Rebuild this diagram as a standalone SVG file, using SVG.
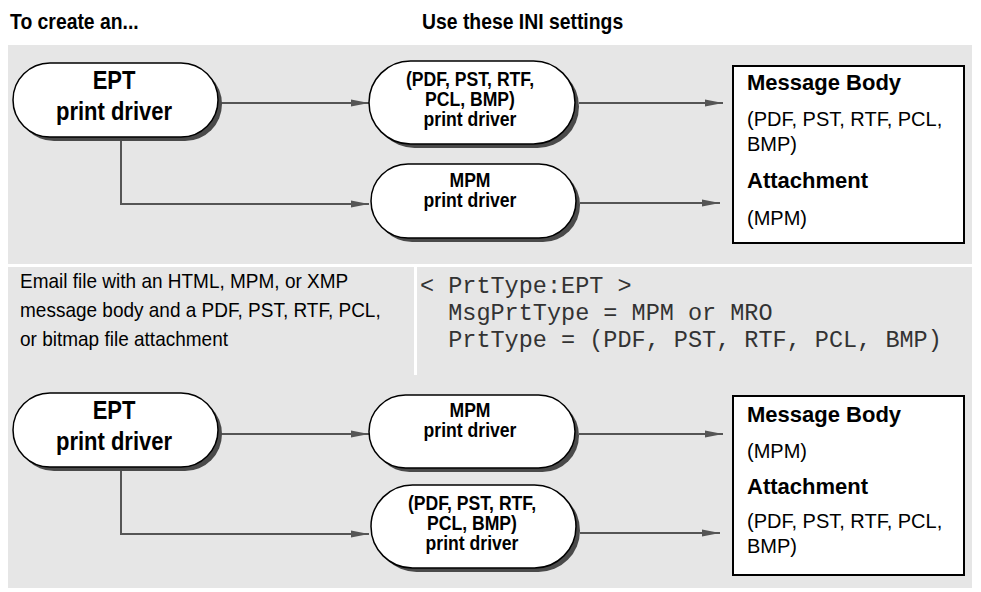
<svg xmlns="http://www.w3.org/2000/svg" width="981" height="592" viewBox="0 0 981 592">
  <style>
    .panel { fill: #e6e6e6; }
    .shadow { fill: #4a4a4a; }
    .pill { fill: #ffffff; stroke: #000000; stroke-width: 1.5; }
    .box { fill: #ffffff; stroke: #000000; stroke-width: 2; }
    .wire { fill: none; stroke: #555555; stroke-width: 2; }
    .cond { font-family: "Liberation Sans", Arial, sans-serif; font-weight: bold; fill: #000; text-anchor: middle; }
    .head { font-family: "Liberation Sans", Arial, sans-serif; font-weight: bold; fill: #000; font-size: 22px; }
    .bold { font-family: "Liberation Sans", Arial, sans-serif; font-weight: bold; fill: #000; font-size: 22px; }
    .reg { font-family: "Liberation Sans", Arial, sans-serif; fill: #000; font-size: 20px; }
    .mono { font-family: "Liberation Mono", "Courier New", monospace; fill: #333; font-size: 23.5px; white-space: pre; }
  </style>
  <defs>
    <marker id="arrow" markerUnits="userSpaceOnUse" markerWidth="20" markerHeight="10" refX="18" refY="4" orient="auto">
      <path d="M0,0.5 L18,4 L0,7.5 Z" fill="#555555"/>
    </marker>
  </defs>

  <rect width="981" height="592" fill="#ffffff"/>

  <!-- column headings -->
  <g id="headings">
    <g transform="translate(10,29) scale(0.88,1)"><text class="head" x="0" y="0">To create an...</text></g>
    <g transform="translate(422,29) scale(0.88,1)"><text class="head" x="0" y="0">Use these INI settings</text></g>
  </g>

  <!-- background panels -->
  <rect class="panel" x="8" y="45" width="964" height="219"/>
  <rect class="panel" x="8" y="267" width="964" height="321"/>
  <rect x="414" y="267" width="3" height="108" fill="#ffffff"/>

  <!-- settings description -->
  <g id="description">
    <g transform="translate(20,0) scale(0.95,1)">
      <text class="reg" x="0" y="288">Email file with an HTML, MPM, or XMP</text>
      <text class="reg" x="0" y="317">message body and a PDF, PST, RTF, PCL,</text>
      <text class="reg" x="0" y="346">or bitmap file attachment</text>
    </g>
  </g>
  <g id="ini-settings">
    <text class="mono" x="420" y="293">&lt; PrtType:EPT &gt;</text>
    <text class="mono" x="420" y="320">  MsgPrtType = MPM or MRO</text>
    <text class="mono" x="420" y="347">  PrtType = (PDF, PST, RTF, PCL, BMP)</text>
  </g>

  <!-- connectors -->
  <g id="connectors">
    <path class="wire" d="M218,103 H369" marker-end="url(#arrow)"/>
    <path class="wire" d="M121,137 V204 H369" marker-end="url(#arrow)"/>
    <path class="wire" d="M579,103 H723" marker-end="url(#arrow)"/>
    <path class="wire" d="M580,203 H720" marker-end="url(#arrow)"/>

    <path class="wire" d="M218,434 H369" marker-end="url(#arrow)"/>
    <path class="wire" d="M121,467 V534 H369" marker-end="url(#arrow)"/>
    <path class="wire" d="M579,434 H723" marker-end="url(#arrow)"/>
    <path class="wire" d="M580,533 H720" marker-end="url(#arrow)"/>
  </g>

  <!-- upper flow -->
  <g id="ept-driver-1">
    <rect class="shadow" x="17" y="67" width="205" height="74" rx="37"/>
    <rect class="pill" x="13" y="63" width="205" height="74" rx="37"/>
    <g transform="translate(114,0) scale(0.88,1)">
      <text class="cond" x="0" y="89" font-size="25">EPT</text>
      <text class="cond" x="0" y="120" font-size="25">print driver</text>
    </g>
  </g>
  <g id="pdf-driver-1">
    <rect class="shadow" x="373" y="65" width="206" height="83" rx="41.5"/>
    <rect class="pill" x="369" y="61" width="206" height="83" rx="41.5"/>
    <g transform="translate(470,0) scale(0.88,1)">
      <text class="cond" x="0" y="86" font-size="20">(PDF, PST, RTF,</text>
      <text class="cond" x="0" y="106" font-size="20">PCL, BMP)</text>
      <text class="cond" x="0" y="126" font-size="20">print driver</text>
    </g>
  </g>
  <g id="mpm-driver-1">
    <rect class="shadow" x="375" y="168" width="205" height="74" rx="37"/>
    <rect class="pill" x="371" y="164" width="205" height="74" rx="37"/>
    <g transform="translate(470,0) scale(0.88,1)">
      <text class="cond" x="0" y="187" font-size="20">MPM</text>
      <text class="cond" x="0" y="207" font-size="20">print driver</text>
    </g>
  </g>
  <g id="result-1">
    <rect class="box" x="733" y="66" width="231" height="177"/>
    <text class="bold" x="747" y="90">Message Body</text>
    <text class="reg" x="747" y="126">(PDF, PST, RTF, PCL,</text>
    <text class="reg" x="747" y="151">BMP)</text>
    <text class="bold" x="747" y="188">Attachment</text>
    <text class="reg" x="747" y="225">(MPM)</text>
  </g>

  <!-- lower flow -->
  <g id="ept-driver-2">
    <rect class="shadow" x="17" y="397" width="205" height="74" rx="37"/>
    <rect class="pill" x="13" y="393" width="205" height="74" rx="37"/>
    <g transform="translate(114,0) scale(0.88,1)">
      <text class="cond" x="0" y="419" font-size="25">EPT</text>
      <text class="cond" x="0" y="450" font-size="25">print driver</text>
    </g>
  </g>
  <g id="mpm-driver-2">
    <rect class="shadow" x="373" y="399" width="206" height="73" rx="36.5"/>
    <rect class="pill" x="369" y="395" width="206" height="73" rx="36.5"/>
    <g transform="translate(470,0) scale(0.88,1)">
      <text class="cond" x="0" y="417" font-size="20">MPM</text>
      <text class="cond" x="0" y="437" font-size="20">print driver</text>
    </g>
  </g>
  <g id="pdf-driver-2">
    <rect class="shadow" x="375" y="489" width="205" height="83" rx="41.5"/>
    <rect class="pill" x="371" y="485" width="205" height="83" rx="41.5"/>
    <g transform="translate(472,0) scale(0.88,1)">
      <text class="cond" x="0" y="510" font-size="20">(PDF, PST, RTF,</text>
      <text class="cond" x="0" y="530" font-size="20">PCL, BMP)</text>
      <text class="cond" x="0" y="550" font-size="20">print driver</text>
    </g>
  </g>
  <g id="result-2">
    <rect class="box" x="733" y="396" width="231" height="179"/>
    <text class="bold" x="747" y="422">Message Body</text>
    <text class="reg" x="747" y="458">(MPM)</text>
    <text class="bold" x="747" y="494">Attachment</text>
    <text class="reg" x="747" y="528">(PDF, PST, RTF, PCL,</text>
    <text class="reg" x="747" y="553">BMP)</text>
  </g>
</svg>
